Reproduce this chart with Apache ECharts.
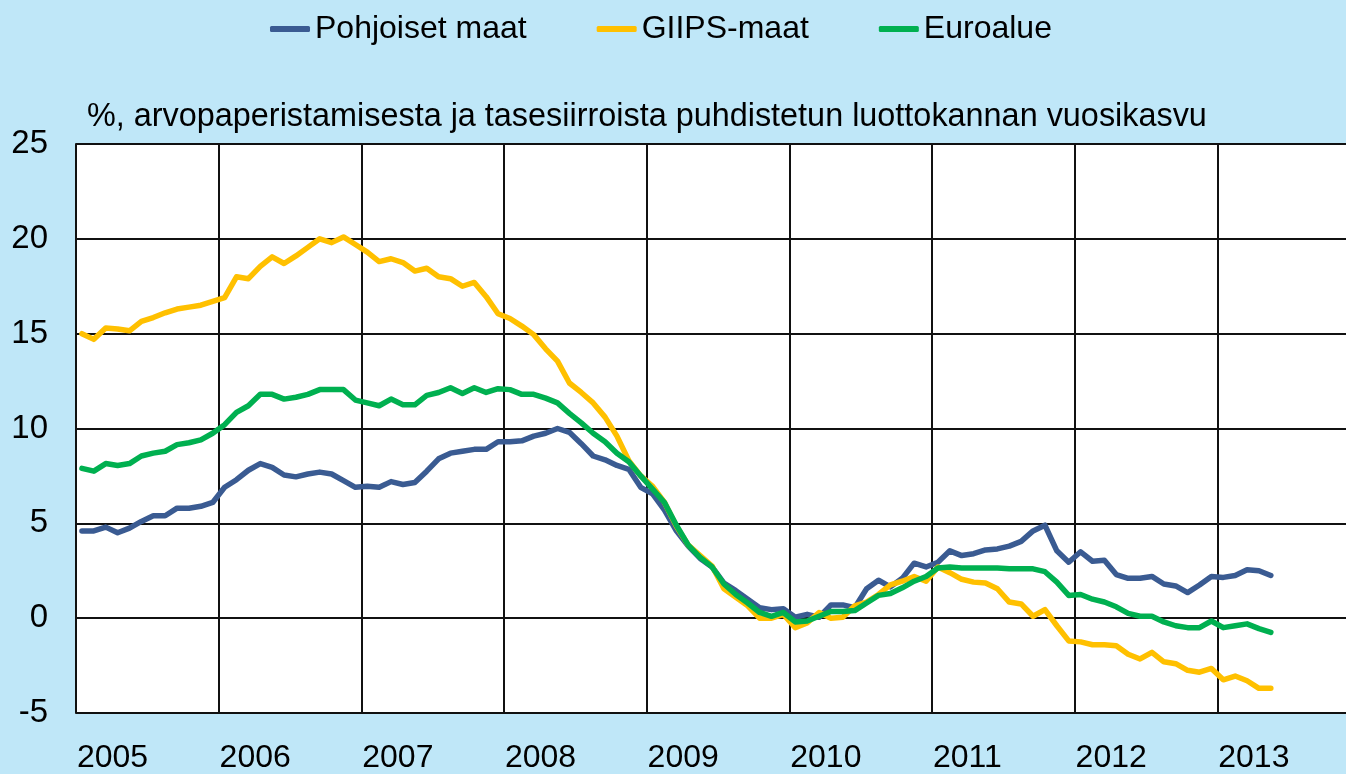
<!DOCTYPE html>
<html>
<head>
<meta charset="utf-8">
<title>Luottokannan vuosikasvu</title>
<script src="https://cdn.jsdelivr.net/npm/echarts@6/dist/echarts.min.js"></script>
<style>
  html, body { margin: 0; padding: 0; overflow: hidden; }
  /* kaavio on ikkunaa hieman leveampi, jotta ruudukko jatkuu oikean reunan yli */
  #main { width: 1360px; height: 774px; }
</style>
</head>
<body>
<div id="main"></div>
<script>
// kuukausittaiset havainnot 2005/01 - 2013/05
const years = ['2005', '2006', '2007', '2008', '2009', '2010', '2011', '2012', '2013'];

const pohjoiset = [
  4.6, 4.6, 4.8, 4.5, 4.75, 5.1, 5.4, 5.4, 5.8, 5.8, 5.9, 6.1,
  6.9, 7.3, 7.8, 8.15, 7.95, 7.55, 7.45, 7.6, 7.7, 7.6, 7.25, 6.9,
  6.95, 6.9, 7.2, 7.05, 7.15, 7.75, 8.4, 8.7, 8.8, 8.9, 8.9, 9.3,
  9.3, 9.35, 9.6, 9.75, 10.0, 9.8, 9.2, 8.55, 8.35, 8.05, 7.85, 6.9,
  6.55, 5.7, 4.6, 3.8, 3.15, 2.7, 1.85, 1.45, 1.0, 0.55, 0.45, 0.5,
  0.05, 0.2, 0.05, 0.7, 0.7, 0.55, 1.55, 2.0, 1.65, 2.1, 2.9, 2.7,
  2.95, 3.55, 3.3, 3.4, 3.6, 3.65, 3.8, 4.05, 4.6, 4.9, 3.55, 2.95,
  3.5, 3.0, 3.05, 2.3, 2.1, 2.1, 2.2, 1.8, 1.7, 1.35, 1.75, 2.2,
  2.15, 2.25, 2.55, 2.5, 2.25
];

const giips = [
  15.0, 14.7, 15.3, 15.25, 15.15, 15.65, 15.85, 16.1, 16.3, 16.4, 16.5, 16.7,
  16.9, 18.0, 17.9, 18.55, 19.05, 18.7, 19.1, 19.55, 20.0, 19.8, 20.1, 19.7,
  19.3, 18.8, 18.95, 18.75, 18.3, 18.45, 18.0, 17.9, 17.5, 17.7, 16.95, 16.05,
  15.8, 15.4, 14.95, 14.2, 13.55, 12.4, 11.9, 11.35, 10.6, 9.6, 8.3, 7.5,
  6.95, 6.1, 4.85, 3.85, 3.3, 2.75, 1.55, 1.1, 0.65, 0.0, 0.0, 0.2,
  -0.5, -0.25, 0.3, 0.0, 0.05, 0.65, 0.85, 1.25, 1.75, 1.95, 2.2, 1.95,
  2.7, 2.4, 2.05, 1.9, 1.85, 1.55, 0.85, 0.75, 0.1, 0.45, -0.4, -1.2,
  -1.25, -1.4, -1.4, -1.45, -1.9, -2.15, -1.8, -2.3, -2.4, -2.75, -2.85, -2.65,
  -3.25, -3.05, -3.3, -3.7, -3.7
];

const euroalue = [
  7.9, 7.75, 8.15, 8.05, 8.15, 8.55, 8.7, 8.8, 9.15, 9.25, 9.4, 9.75,
  10.2, 10.85, 11.2, 11.8, 11.8, 11.55, 11.65, 11.8, 12.05, 12.05, 12.05, 11.5,
  11.35, 11.2, 11.55, 11.25, 11.25, 11.75, 11.9, 12.15, 11.85, 12.15, 11.9, 12.1,
  12.05, 11.8, 11.8, 11.6, 11.35, 10.8, 10.3, 9.75, 9.3, 8.7, 8.25, 7.5,
  6.8, 6.1, 4.9, 3.85, 3.2, 2.7, 1.8, 1.25, 0.8, 0.3, 0.1, 0.3,
  -0.2, -0.15, 0.1, 0.35, 0.35, 0.4, 0.8, 1.2, 1.3, 1.6, 1.95, 2.2,
  2.65, 2.7, 2.65, 2.65, 2.65, 2.65, 2.6, 2.6, 2.6, 2.45, 1.9, 1.2,
  1.25, 1.0, 0.85, 0.6, 0.25, 0.1, 0.1, -0.2, -0.4, -0.5, -0.5, -0.15,
  -0.5, -0.4, -0.3, -0.55, -0.75
];

const yTicks = { min: -5, max: 25, interval: 5 };

// kuukausikategoriat koko jaksolle
const months = [];
years.forEach(y => {
  for (let m = 1; m <= 12; m++) {
    months.push(y + '-' + (m < 10 ? '0' + m : m));
  }
});

const chartDom = document.getElementById('main');
const myChart = echarts.init(chartDom);
const font = '"Liberation Sans", Arial, sans-serif';
const isJanuary = (index) => index % 12 === 0;

const option = {
  backgroundColor: '#bfe7f8',
  textStyle: { fontFamily: font },
  title: {
    text: '%, arvopaperistamisesta ja tasesiirroista puhdistetun luottokannan vuosikasvu',
    left: 82,
    top: 96,
    textStyle: { color: '#000', fontSize: 32.4, fontWeight: 'normal', fontFamily: font }
  },
  legend: {
    data: ['Pohjoiset maat', 'GIIPS-maat', 'Euroalue'],
    left: 265,
    top: 8,
    icon: 'roundRect',
    itemWidth: 40,
    itemHeight: 6,
    itemGap: 70,
    textStyle: { color: '#000', fontSize: 32, fontFamily: font }
  },
  grid: {
    left: 76,
    right: 0,
    top: 144,
    bottom: 60,
    show: true,
    backgroundColor: '#ffffff',
    borderWidth: 0
  },
  xAxis: {
    type: 'category',
    data: months,
    boundaryGap: true,
    axisLine: { lineStyle: { color: '#111', width: 2 } },
    axisTick: { show: false },
    axisLabel: {
      interval: isJanuary,
      align: 'left',
      margin: 29,
      padding: [0, 0, 0, -5],
      color: '#000',
      fontSize: 32,
      fontFamily: font,
      formatter: (v) => v.slice(0, 4)
    },
    splitLine: {
      show: true,
      interval: isJanuary,
      lineStyle: { color: '#111', width: 2 }
    }
  },
  yAxis: {
    type: 'value',
    min: yTicks.min,
    max: yTicks.max,
    interval: yTicks.interval,
    axisLine: { show: true, lineStyle: { color: '#111', width: 2 } },
    axisTick: { show: false },
    axisLabel: { color: '#000', fontSize: 33, margin: 28, fontFamily: font },
    splitLine: { lineStyle: { color: '#111', width: 2 } }
  },
  series: [
    {
      name: 'Pohjoiset maat',
      type: 'line',
      data: pohjoiset,
      symbol: 'none',
      color: '#3a5b92',
      lineStyle: { width: 5.5, cap: 'round', join: 'round' }
    },
    {
      name: 'GIIPS-maat',
      type: 'line',
      data: giips,
      symbol: 'none',
      color: '#ffc000',
      lineStyle: { width: 5.5, cap: 'round', join: 'round' }
    },
    {
      name: 'Euroalue',
      type: 'line',
      data: euroalue,
      symbol: 'none',
      color: '#00b050',
      lineStyle: { width: 5.5, cap: 'round', join: 'round' }
    }
  ]
};

option && myChart.setOption(option);
</script>
</body>
</html>
